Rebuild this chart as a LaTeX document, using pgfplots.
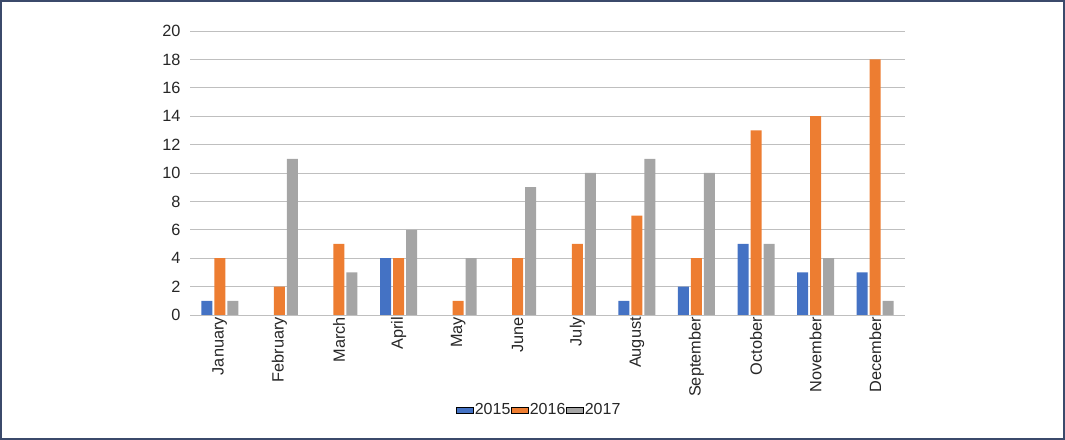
\documentclass[border=0pt]{standalone}
\usepackage{pgfplots}
\pgfplotsset{compat=1.18}
\usepackage{fontspec}
\setmainfont{Liberation Sans}
\definecolor{c15}{HTML}{4472C4}
\definecolor{c16}{HTML}{ED7D31}
\definecolor{c17}{HTML}{A5A5A5}
\definecolor{frame}{HTML}{3B4A6B}
\definecolor{grid}{HTML}{D9D9D9}
\definecolor{txt}{HTML}{262626}
\begin{document}
\begin{tikzpicture}
\useasboundingbox (0,0) rectangle (1065bp,440bp);
\draw[frame, line width=2bp] (1bp,1bp) rectangle (1064bp,439bp);
\begin{axis}[
  at={(190bp,125bp)}, anchor=south west,
  scale only axis, width=715bp, height=284bp,
  xmin=-0.5, xmax=11.5, ymin=0, ymax=20,
  ytick={0,2,...,20},
  xtick={0,...,11},
  xticklabels={January,February,March,April,May,June,July,August,September,October,November,December},
  major tick length=0pt,
  axis line style={draw=none},
  ymajorgrids, xmajorgrids=false, grid style={grid, line width=0.8bp},
  font=\fontsize{16.3bp}{19bp}\selectfont,
  tick label style={text=txt},
  /pgf/number format/assume math mode=true,
  yticklabel style={anchor=east, xshift=-6bp},
  xticklabel style={rotate=90, anchor=east, inner sep=2bp},
  legend style={at={(axis description cs:0.488,-0.335)}, anchor=center, draw=none,
    font=\fontsize{16bp}{19bp}\selectfont, text=txt, inner sep=0pt,
    nodes={inner sep=1bp},
    /tikz/every even column/.append style={column sep=0bp}},
  legend columns=-1,
  legend image code/.code={\fill[#1] (1bp,-4bp) rectangle (9bp,4bp);},
  legend cell align=left,
]
\draw[grid, line width=0.8bp] (axis cs:-0.5,0) -- (axis cs:11.5,0);
\addplot[ybar, bar width=11bp, bar shift=-13bp, fill=c15, draw=none, area legend] coordinates {(0,1) (3,4) (7,1) (8,2) (9,5) (10,3) (11,3)};
\addplot[ybar, bar width=11bp, bar shift=0bp, fill=c16, draw=none, area legend] coordinates {(0,4) (1,2) (2,5) (3,4) (4,1) (5,4) (6,5) (7,7) (8,4) (9,13) (10,14) (11,18)};
\addplot[ybar, bar width=11bp, bar shift=13bp, fill=c17, draw=none, area legend] coordinates {(0,1) (1,11) (2,3) (3,6) (4,4) (5,9) (6,10) (7,11) (8,10) (9,5) (10,4) (11,1)};
\legend{2015,2016,2017}
\end{axis}
\end{tikzpicture}
\end{document}
